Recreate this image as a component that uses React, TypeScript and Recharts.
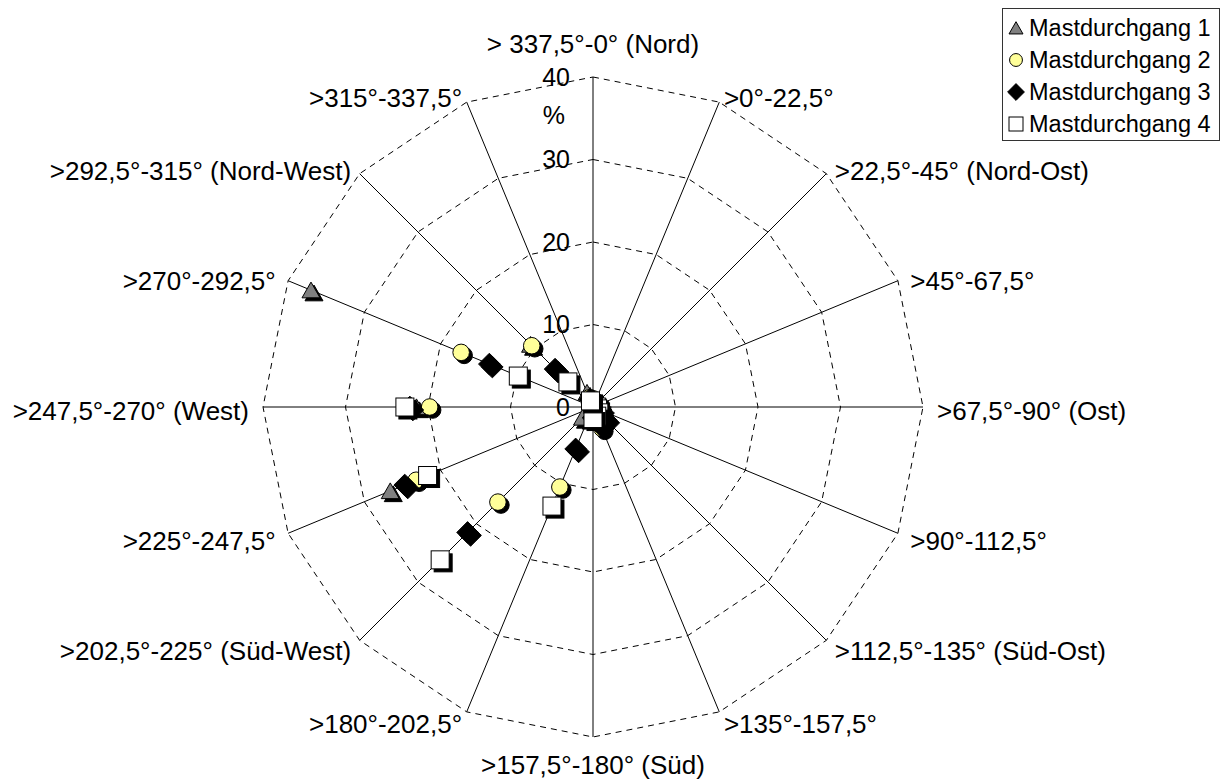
import React from 'react';
import {
  RadarChart,
  Radar,
  PolarGrid,
  PolarAngleAxis,
  PolarRadiusAxis,
  Legend,
} from 'recharts';

// Wind direction sectors, clockwise from north
const directions = [
  '> 337,5°-0° (Nord)',
  '>0°-22,5°',
  '>22,5°-45° (Nord-Ost)',
  '>45°-67,5°',
  '>67,5°-90° (Ost)',
  '>90°-112,5°',
  '>112,5°-135° (Süd-Ost)',
  '>135°-157,5°',
  '>157,5°-180° (Süd)',
  '>180°-202,5°',
  '>202,5°-225° (Süd-West)',
  '>225°-247,5°',
  '>247,5°-270° (West)',
  '>270°-292,5°',
  '>292,5°-315° (Nord-West)',
  '>315°-337,5°',
];

// Share of observations per sector (%)
const mast1 = [1.0, 0.5, 0.3, 0.3, 0.4, 0.5, 0.8, 1.0, 1.2, 1.5, 1.8, 26.6, 21.4, 37.0, 10.7, 1.9];
const mast2 = [1.0, 0.4, 0.3, 0.3, 0.5, 0.8, 1.5, 2.8, 1.5, 10.5, 16.3, 23.2, 19.8, 17.3, 10.5, 1.2];
const mast3 = [0.8, 0.4, 0.3, 0.3, 0.6, 1.0, 2.2, 2.4, 1.3, 5.5, 21.5, 24.7, 22.2, 13.6, 6.5, 1.0];
const mast4 = [0.3, 0.3, 0.2, 0.2, 0.4, 0.6, 1.0, 1.2, 1.4, 13.0, 26.2, 21.7, 22.8, 9.8, 4.3, 0.8];

const seriesNames = ['Mastdurchgang 1', 'Mastdurchgang 2', 'Mastdurchgang 3', 'Mastdurchgang 4'];
const radiusTicks = [0, 10, 20, 30, 40];

const data = directions.map((dir, i) => ({
  dir,
  m1: mast1[i],
  m2: mast2[i],
  m3: mast3[i],
  m4: mast4[i],
}));

const CX = 593;
const CY = 407;
const OUTER = 330;
const FONT = '"Liberation Sans", Arial, Helvetica, sans-serif';
const SH = 3; // marker shadow offset

type Shape = 'triangle' | 'circle' | 'diamond' | 'square';
const shapes: Shape[] = ['triangle', 'circle', 'diamond', 'square'];

function shapeElement(shape: Shape, x: number, y: number, s: number, fill: string, stroke: string) {
  switch (shape) {
    case 'triangle':
      return (
        <polygon
          points={`${x},${y - s * 0.9} ${x + s},${y + s * 0.85} ${x - s},${y + s * 0.85}`}
          fill={fill}
          stroke={stroke}
          strokeWidth={1}
        />
      );
    case 'circle':
      return <circle cx={x} cy={y} r={s * 0.92} fill={fill} stroke={stroke} strokeWidth={1} />;
    case 'diamond':
      return (
        <polygon
          points={`${x},${y - s * 1.2} ${x + s * 1.2},${y} ${x},${y + s * 1.2} ${x - s * 1.2},${y}`}
          fill={fill}
          stroke={stroke}
          strokeWidth={1}
        />
      );
    default:
      return (
        <rect x={x - s} y={y - s} width={s * 2} height={s * 2} fill={fill} stroke={stroke} strokeWidth={1} />
      );
  }
}

const fills: Record<Shape, string> = {
  triangle: '#808080',
  circle: '#FFFF99',
  diamond: '#000000',
  square: '#FFFFFF',
};

function makeDot(shape: Shape) {
  return (props: any) => {
    const { cx, cy, index } = props;
    if (cx == null || cy == null) return <g key={`${shape}-${index}`} />;
    const s = 9;
    return (
      <g key={`${shape}-${index}`}>
        {shapeElement(shape, cx + SH, cy + SH, s, '#000', '#000')}
        {shapeElement(shape, cx, cy, s, fills[shape], '#000')}
      </g>
    );
  };
}

const AngleTick = (props: any) => {
  const { x, y, payload } = props;
  const dx = x - CX;
  const dy = y - CY;
  const len = Math.hypot(dx, dy) || 1;
  const ux = dx / len;
  const uy = dy / len;
  const px = CX + ux * OUTER;
  const py = CY + uy * OUTER;
  let anchor: 'start' | 'middle' | 'end' = 'middle';
  let tx = px;
  let ty = py;
  if (Math.abs(ux) < 0.1) {
    ty = uy < 0 ? py - 33 : py + 28;
  } else {
    anchor = ux > 0 ? 'start' : 'end';
    tx = px + Math.sign(ux) * (3 + 11 * ux * ux);
    ty = py + 4 + 9 * uy;
  }
  return (
    <text x={tx} y={ty} dy="0.35em" textAnchor={anchor} fontFamily={FONT} fontSize={26} fill="#000">
      {payload.value}
    </text>
  );
};

const RadiusTick = (props: any) => {
  const { x, y, payload } = props;
  const isTop = payload.value === radiusTicks[radiusTicks.length - 1];
  return (
    <g>
      <text x={x - 23} y={y} dy="0.35em" textAnchor="end" fontFamily={FONT} fontSize={25} fill="#000">
        {payload.value}
      </text>
      {isTop && (
        <text x={x - 28} y={y + 38} dy="0.35em" textAnchor="end" fontFamily={FONT} fontSize={25} fill="#000">
          %
        </text>
      )}
    </g>
  );
};

const LegendContent = (props: any) => {
  const payload = props.payload || [];
  return (
    <div
      style={{
        width: 218,
        height: 133,
        boxSizing: 'border-box',
        border: '1px solid #333',
        background: '#fff',
        paddingTop: 3,
        fontFamily: FONT,
        fontSize: 23.5,
        color: '#000',
      }}
    >
      {payload.map((entry: any) => {
        const idx = seriesNames.indexOf(entry.value);
        const shape = shapes[idx < 0 ? 0 : idx];
        return (
          <div key={entry.value} style={{ display: 'flex', alignItems: 'center', height: 32 }}>
            <svg width={26} height={32} style={{ display: 'block', flex: 'none' }}>
              {shapeElement(shape, 13, 16, 7, fills[shape], '#000')}
            </svg>
            <span style={{ marginLeft: 0, lineHeight: '32px', whiteSpace: 'nowrap' }}>{entry.value}</span>
          </div>
        );
      })}
    </div>
  );
};

export default function App() {
  return (
    <div style={{ position: 'absolute', left: 0, top: 0, width: 1226, height: 780, background: '#fff' }}>
      <RadarChart
        width={1226}
        height={780}
        data={data}
        cx={CX}
        cy={CY}
        outerRadius={OUTER}
        margin={{ top: 0, right: 0, bottom: 0, left: 0 }}
      >
        <PolarGrid gridType="polygon" radialLines={false} stroke="#000" strokeDasharray="6 5" />
        <PolarGrid gridType="polygon" polarRadius={[]} stroke="#000" />
        <PolarAngleAxis dataKey="dir" tick={AngleTick} tickLine={false} axisLine={false} />
        <PolarRadiusAxis
          angle={90}
          domain={[0, 40]}
          ticks={radiusTicks as any}
          tickCount={5}
          axisLine={false}
          tick={RadiusTick}
        />
        <Radar dataKey="m1" name={seriesNames[0]} stroke="none" fill="none" dot={makeDot('triangle')} isAnimationActive={false} />
        <Radar dataKey="m2" name={seriesNames[1]} stroke="none" fill="none" dot={makeDot('circle')} isAnimationActive={false} />
        <Radar dataKey="m3" name={seriesNames[2]} stroke="none" fill="none" dot={makeDot('diamond')} isAnimationActive={false} />
        <Radar dataKey="m4" name={seriesNames[3]} stroke="none" fill="none" dot={makeDot('square')} isAnimationActive={false} />
        <Legend
          layout="vertical"
          align="right"
          verticalAlign="top"
          content={LegendContent}
          wrapperStyle={{ left: 1002, top: 8, right: 'auto', width: 218, height: 133 }}
        />
      </RadarChart>
    </div>
  );
}
